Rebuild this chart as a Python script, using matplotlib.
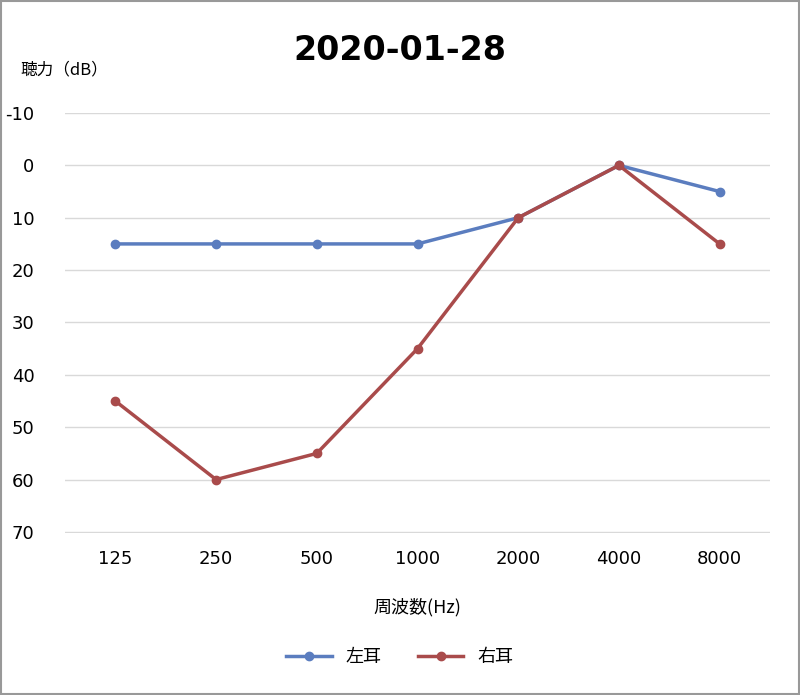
import matplotlib
matplotlib.use("Agg")
import matplotlib.pyplot as plt
from matplotlib.lines import Line2D
from matplotlib.patches import Rectangle

plt.rcParams['font.family'] = ['Noto Sans CJK JP', 'DejaVu Sans']

freqs = ["125", "250", "500", "1000", "2000", "4000", "8000"]
left_ear = [15, 15, 15, 15, 10, 0, 5]
right_ear = [45, 60, 55, 35, 10, 0, 15]
yticks = [-10, 0, 10, 20, 30, 40, 50, 60, 70]

fig = plt.figure(figsize=(8, 6.95), dpi=100)
ax = fig.add_axes([65/800, 1-533/695, 705/800, (533-113)/695])
x = range(len(freqs))
ax.plot(x, left_ear, color="#5B7DBF", lw=2.5, marker="o", ms=6, label="左耳", zorder=3)
ax.plot(x, right_ear, color="#A94B4B", lw=2.5, marker="o", ms=6, label="右耳", zorder=4)
ax.set_xlim(-0.5, 6.5)
ax.set_ylim(70.2, -10)
ax.set_yticks(yticks)
ax.set_yticklabels([str(v) for v in yticks], fontsize=13, family='DejaVu Sans')
ax.set_xticks(list(x))
ax.set_xticklabels(freqs, fontsize=13, family='DejaVu Sans')
ax.grid(axis='y', color="#D9D9D9", lw=1)
for s in ax.spines.values():
    s.set_visible(False)
ax.tick_params(length=0, pad=12)
ax.tick_params(axis='y', pad=22)
ax.set_xlabel("周波数(Hz)", fontsize=13, labelpad=22)
fig.text(20/800, 1-70/695, "聴力（dB）", fontsize=12, va='center', ha='left')
fig.text(400/800, 1-50/695, "2020-01-28", fontsize=24, fontweight='bold', ha='center', va='center', family='DejaVu Sans')
fig.legend(handles=[Line2D([], [], color="#5B7DBF", lw=2.5, marker="o", ms=6, label="左耳"),
                    Line2D([], [], color="#A94B4B", lw=2.5, marker="o", ms=6, label="右耳")],
           loc='center', bbox_to_anchor=(0.5, 1-657/695), ncol=2, frameon=False, fontsize=13,
           handlelength=2.5, columnspacing=2)
fig.patches.append(Rectangle((0.001, 0.001), 0.998, 0.998, transform=fig.transFigure,
                             fill=False, edgecolor="#999999", lw=1.5))
fig.savefig("out.png", dpi=100)
